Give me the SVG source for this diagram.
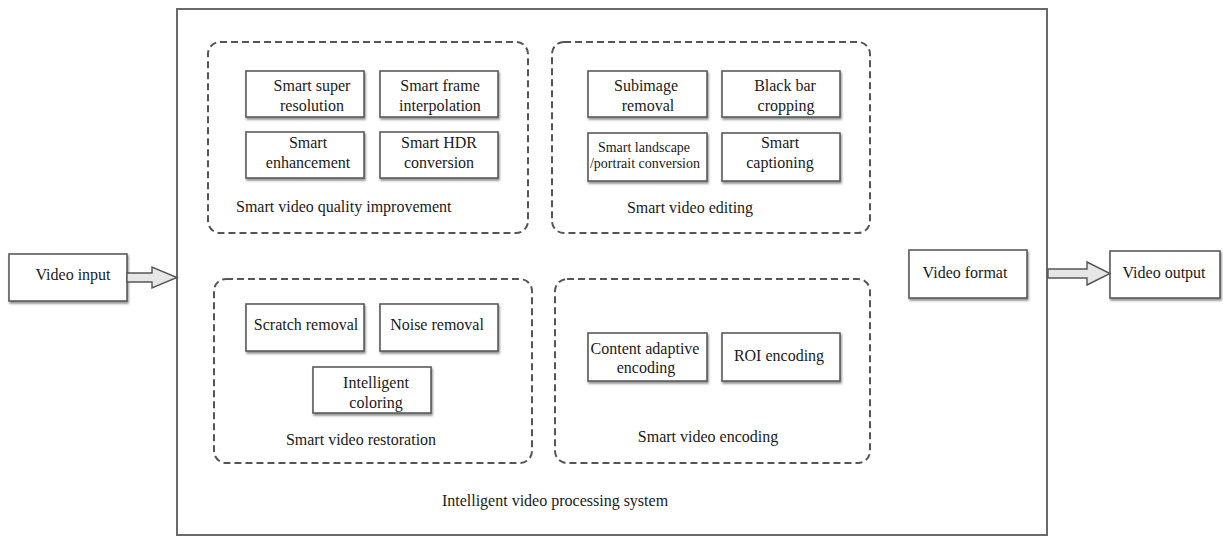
<svg xmlns="http://www.w3.org/2000/svg" width="1223" height="536" viewBox="0 0 1223 536">
<style>
text{font-family:"Liberation Serif","Times New Roman",serif;font-size:16px;fill:#1a1a1a;text-anchor:middle}
.box{fill:#fff;stroke:#5a5a5a;stroke-width:1.6;filter:url(#sh)}
.grp{fill:none;stroke:#555;stroke-width:2;stroke-dasharray:7 4}
.frame{fill:none;stroke:#6a6a6a;stroke-width:2}
.arr{fill:#e6e6e6;stroke:#555;stroke-width:1.4;stroke-linejoin:miter}
.sm{font-size:14px}
</style>
<defs>
<filter id="sh" x="-10%" y="-10%" width="125%" height="135%">
<feDropShadow dx="1" dy="2" stdDeviation="0.8" flood-color="#444" flood-opacity="0.6"/>
</filter>
</defs>
<rect id="main-frame" class="frame" x="177" y="9" width="870" height="526"/>
<text x="555" y="506" style="text-anchor:middle">Intelligent video processing system</text>

<g id="grp-quality">
<rect class="grp" x="208" y="42" width="320" height="191" rx="12"/>
<text x="236" y="212" style="text-anchor:start">Smart video quality improvement</text>
</g>
<g id="n-super"><rect class="box" x="246" y="71" width="118" height="46"/><text x="312" y="91">Smart super</text><text x="312" y="111">resolution</text></g>
<g id="n-frame"><rect class="box" x="380" y="71" width="118" height="46"/><text x="440" y="91">Smart frame</text><text x="440" y="111">interpolation</text></g>
<g id="n-enh"><rect class="box" x="246" y="132" width="118" height="46"/><text x="308" y="148">Smart</text><text x="308" y="168">enhancement</text></g>
<g id="n-hdr"><rect class="box" x="380" y="132" width="118" height="46"/><text x="439" y="148">Smart HDR</text><text x="439" y="168">conversion</text></g>

<g id="grp-editing">
<rect class="grp" x="552" y="42" width="318" height="191" rx="12"/>
<text x="690" y="213">Smart video editing</text>
</g>
<g id="n-subimage"><rect class="box" x="588" y="71" width="119" height="46"/><text x="646" y="91">Subimage</text><text x="648" y="111">removal</text></g>
<g id="n-blackbar"><rect class="box" x="722" y="71" width="118" height="46"/><text x="785" y="91">Black bar</text><text x="786" y="111">cropping</text></g>
<g id="n-landscape"><rect class="box" x="588" y="133" width="119" height="48"/><text class="sm" x="644" y="152">Smart landscape</text><text class="sm" x="645" y="168">/portrait conversion</text></g>
<g id="n-caption"><rect class="box" x="722" y="133" width="118" height="48"/><text x="780" y="148">Smart</text><text x="780" y="168">captioning</text></g>

<g id="grp-restoration">
<rect class="grp" x="214" y="279" width="318" height="184" rx="12"/>
<text x="361" y="445">Smart video restoration</text>
</g>
<g id="n-scratch"><rect class="box" x="246" y="304" width="118" height="47"/><text x="306" y="330">Scratch removal</text></g>
<g id="n-noise"><rect class="box" x="380" y="304" width="118" height="47"/><text x="437" y="330">Noise removal</text></g>
<g id="n-coloring"><rect class="box" x="313" y="367" width="118" height="46"/><text x="376" y="388">Intelligent</text><text x="376" y="408">coloring</text></g>

<g id="grp-encoding">
<rect class="grp" x="555" y="279" width="315" height="184" rx="12"/>
<text x="708" y="442">Smart video encoding</text>
</g>
<g id="n-content"><rect class="box" x="588" y="333" width="119" height="48"/><text x="645" y="354">Content adaptive</text><text x="646" y="373">encoding</text></g>
<g id="n-roi"><rect class="box" x="722" y="333" width="118" height="48"/><text x="779" y="361">ROI encoding</text></g>

<g id="n-input"><rect class="box" x="9" y="254" width="118" height="47"/><text x="73" y="280">Video input</text></g>
<g id="n-format"><rect class="box" x="909" y="250" width="118" height="48"/><text x="965" y="278">Video format</text></g>
<g id="n-output"><rect class="box" x="1110" y="251" width="110" height="47"/><text x="1164" y="278">Video output</text></g>

<g id="connectors">
<polygon class="arr" points="127,273 152,273 152,267 177,277.5 152,288 152,282 127,282"/>
<polygon class="arr" points="1048,269 1087,269 1087,262 1110,273.5 1087,285 1087,278 1048,278"/>
</g>
</svg>
